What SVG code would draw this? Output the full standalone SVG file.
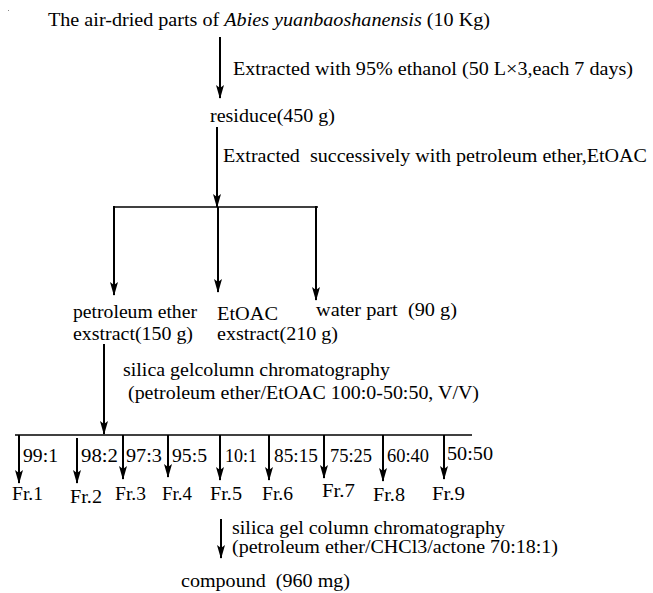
<svg xmlns="http://www.w3.org/2000/svg" width="653" height="593" viewBox="0 0 653 593">
<style>
text{font-family:"Liberation Serif","Times New Roman",serif;font-size:19px;fill:#000}
.ln{stroke:#000;stroke-width:2;fill:none}
.bar{stroke:#000;stroke-width:1.5;fill:none}
</style>
<defs>
<marker id="ad" markerUnits="userSpaceOnUse" markerWidth="8" markerHeight="14" refX="4" refY="13" orient="0" viewBox="0 0 8 14">
<path d="M0,0 L4,3 L8,0 L4,14 Z" fill="#000"/>
</marker>
</defs>
<rect x="8" y="10" width="1" height="1" fill="#888"/>
<g id="n-source"><text x="48" y="26" textLength="442" lengthAdjust="spacingAndGlyphs">The air-dried parts of <tspan font-style="italic">Abies yuanbaoshanensis</tspan> (10 Kg)</text></g>
<g id="n-residue"><text x="210" y="122" textLength="125" lengthAdjust="spacingAndGlyphs">residuce(450 g)</text></g>
<g id="n-pe"><text x="73" y="318" textLength="124" lengthAdjust="spacingAndGlyphs">petroleum ether</text><text x="73" y="340" textLength="120" lengthAdjust="spacingAndGlyphs">exstract(150 g)</text></g>
<g id="n-etoac"><text x="217" y="320" textLength="61" lengthAdjust="spacingAndGlyphs">EtOAC</text><text x="217" y="340" textLength="121" lengthAdjust="spacingAndGlyphs">exstract(210 g)</text></g>
<g id="n-water"><text x="316" y="316" textLength="141" lengthAdjust="spacingAndGlyphs" xml:space="preserve">water part  (90 g)</text></g>
<g id="n-fr">
<text x="12" y="500" textLength="31" lengthAdjust="spacingAndGlyphs">Fr.1</text>
<text x="70" y="503" textLength="32" lengthAdjust="spacingAndGlyphs">Fr.2</text>
<text x="115" y="500" textLength="31" lengthAdjust="spacingAndGlyphs">Fr.3</text>
<text x="162" y="500" textLength="30" lengthAdjust="spacingAndGlyphs">Fr.4</text>
<text x="210" y="500" textLength="32" lengthAdjust="spacingAndGlyphs">Fr.5</text>
<text x="262" y="500" textLength="31" lengthAdjust="spacingAndGlyphs">Fr.6</text>
<text x="322" y="497" textLength="33" lengthAdjust="spacingAndGlyphs">Fr.7</text>
<text x="373" y="501" textLength="32" lengthAdjust="spacingAndGlyphs">Fr.8</text>
<text x="432" y="500" textLength="33" lengthAdjust="spacingAndGlyphs">Fr.9</text>
</g>
<g id="n-compound"><text x="181" y="587" textLength="169" lengthAdjust="spacingAndGlyphs" xml:space="preserve">compound  (960 mg)</text></g>
<g id="labels">
<text x="233" y="75" textLength="400" lengthAdjust="spacingAndGlyphs">Extracted with 95% ethanol (50 L×3,each 7 days)</text>
<text x="223" y="162" textLength="424" lengthAdjust="spacingAndGlyphs" xml:space="preserve">Extracted  successively with petroleum ether,EtOAC</text>
<text x="123" y="376" textLength="267" lengthAdjust="spacingAndGlyphs">silica gelcolumn chromatography</text>
<text x="128" y="399" textLength="351" lengthAdjust="spacingAndGlyphs">(petroleum ether/EtOAC 100:0-50:50, V/V)</text>
<text x="23" y="462" textLength="35" lengthAdjust="spacingAndGlyphs">99:1</text>
<text x="81" y="462" textLength="37" lengthAdjust="spacingAndGlyphs">98:2</text>
<text x="126" y="462" textLength="36" lengthAdjust="spacingAndGlyphs">97:3</text>
<text x="172" y="462" textLength="35" lengthAdjust="spacingAndGlyphs">95:5</text>
<text x="225" y="462" textLength="32" lengthAdjust="spacingAndGlyphs">10:1</text>
<text x="274" y="462" textLength="44" lengthAdjust="spacingAndGlyphs">85:15</text>
<text x="330" y="462" textLength="42" lengthAdjust="spacingAndGlyphs">75:25</text>
<text x="387" y="462" textLength="42" lengthAdjust="spacingAndGlyphs">60:40</text>
<text x="447" y="460" textLength="46" lengthAdjust="spacingAndGlyphs">50:50</text>
<text x="232" y="534" textLength="273" lengthAdjust="spacingAndGlyphs">silica gel column chromatography</text>
<text x="232" y="553" textLength="326" lengthAdjust="spacingAndGlyphs">(petroleum ether/CHCl3/actone 70:18:1)</text>
</g>
<g id="connectors">
<line class="ln" x1="220" y1="37" x2="220" y2="98" marker-end="url(#ad)"/>
<line class="ln" x1="217" y1="127" x2="217" y2="207" marker-end="url(#ad)"/>
<line class="bar" x1="114" y1="207" x2="318" y2="207"/>
<line class="ln" x1="114" y1="206" x2="114" y2="295" marker-end="url(#ad)"/>
<line class="ln" x1="218" y1="207" x2="218" y2="292" marker-end="url(#ad)"/>
<line class="ln" x1="316" y1="206" x2="316" y2="300" marker-end="url(#ad)"/>
<line class="ln" x1="104" y1="344" x2="104" y2="434" marker-end="url(#ad)"/>
<line class="bar" x1="15" y1="435" x2="472" y2="435"/>
<line class="ln" x1="19" y1="435" x2="19" y2="483" marker-end="url(#ad)"/>
<line class="ln" x1="77" y1="438" x2="77" y2="483" marker-end="url(#ad)"/>
<line class="ln" x1="123" y1="435" x2="123" y2="479" marker-end="url(#ad)"/>
<line class="ln" x1="168" y1="435" x2="168" y2="477" marker-end="url(#ad)"/>
<line class="ln" x1="220" y1="435" x2="220" y2="480" marker-end="url(#ad)"/>
<line class="ln" x1="269" y1="435" x2="269" y2="480" marker-end="url(#ad)"/>
<line class="ln" x1="324" y1="435" x2="324" y2="478" marker-end="url(#ad)"/>
<line class="ln" x1="383" y1="435" x2="383" y2="481" marker-end="url(#ad)"/>
<line class="ln" x1="444" y1="435" x2="444" y2="479" marker-end="url(#ad)"/>
<line class="ln" x1="221" y1="519" x2="221" y2="558" marker-end="url(#ad)"/>
</g>
</svg>
